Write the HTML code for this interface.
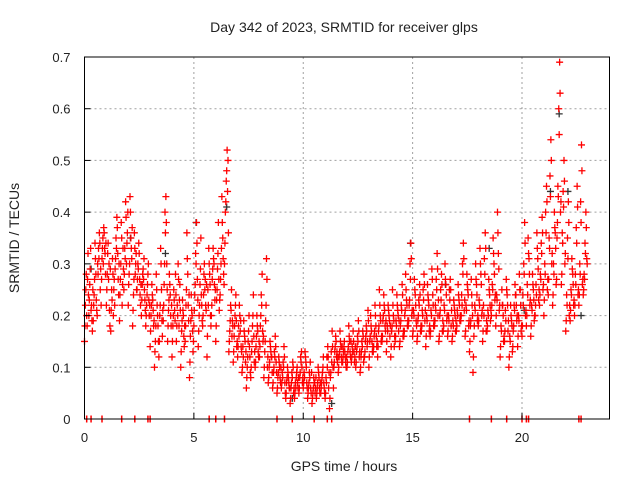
<!DOCTYPE html>
<html><head><meta charset="utf-8"><style>
body{margin:0;background:#fff}
svg text{font-family:"Liberation Sans",sans-serif;fill:#222}
</style></head><body>
<svg id="c" width="640" height="480" xmlns="http://www.w3.org/2000/svg">
<text x="344" y="32" font-size="14" text-anchor="middle">Day 342 of 2023, SRMTID for receiver glps</text>
<text x="344" y="471" font-size="14" text-anchor="middle">GPS time / hours</text>
<text transform="translate(19,238) rotate(-90)" font-size="14" text-anchor="middle">SRMTID / TECUs</text>
<g id="grid"></g>
<g id="marks"></g>
<g id="axes"></g>
</svg>
<script>
const xTicks=[0,5,10,15,20];
const yTicks=[0,0.1,0.2,0.3,0.4,0.5,0.6,0.7];
const yTickLabels=["0","0.1","0.2","0.3","0.4","0.5","0.6","0.7"];
const hourStep=0.2;
const srmtid=[
[.15,.22,.28,.18,.32],[.20,.26,.33,.22,.17],[.19,.24,.34,.28,.21],[.30,.33,.36,.25,.22],[.31,.35,.37,.33,.28],
[.22,.28,.34,.30,.18],[.17,.25,.31,.20,.27],[.29,.35,.39,.32,.24],[.19,.27,.38,.22,.33],[.25,.33,.42,.30,.36],
[.22,.28,.43,.35,.31],[.18,.24,.36,.28,.32],[.25,.30,.34,.27,.22],[.20,.26,.29,.31,.23],[.18,.22,.26,.30,.20],
[.14,.20,.26,.23,.18],[.10,.15,.28,.22,.18],[.12,.20,.33,.25,.16],[.19,.26,.40,.43,.30],[.15,.21,.28,.24,.18],
[.12,.18,.25,.21,.28],[.15,.22,.30,.18,.26],[.10,.17,.23,.20,.14],[.15,.22,.36,.28,.19],[.08,.16,.24,.20,.13],
[.18,.24,.32,.38,.27],[.14,.20,.26,.35,.22],[.18,.24,.30,.27,.21],[.12,.25,.33,.28,.20],[.20,.27,.33,.30,.23],
[.15,.23,.29,.38,.21],[.24,.30,.43,.35,.28],[.30,.40,.46,.52,.50],[.13,.17,.22,.25,.19],[.11,.16,.20,.24,.14],
[.12,.18,.22,.17,.14],[.09,.14,.19,.16,.11],[.06,.10,.15,.20,.12],[.08,.13,.18,.24,.11],[.10,.14,.20,.17,.12],
[.12,.18,.24,.28,.15],[.08,.13,.19,.31,.10],[.07,.10,.15,.13,.12],[.06,.09,.13,.16,.11],[.05,.08,.12,.10,.07],
[.06,.09,.11,.14,.07],[.04,.07,.10,.08,.06],[.03,.06,.09,.11,.05],[.04,.07,.08,.10,.06],[.05,.08,.12,.13,.07],
[.06,.09,.13,.11,.07],[.04,.06,.09,.11,.05],[.03,.05,.08,.07,.06],[.04,.06,.10,.08,.05],[.05,.07,.09,.12,.06],
[.04,.08,.12,.14,.06],[.02,.08,.13,.17,.10],[.10,.13,.16,.12,.11],[.09,.12,.17,.14,.11],[.11,.13,.15,.12,.10],
[.10,.13,.18,.15,.12],[.11,.14,.17,.13,.12],[.10,.13,.16,.19,.12],[.09,.12,.15,.17,.11],[.12,.15,.18,.14,.21],
[.10,.15,.20,.17,.13],[.13,.16,.22,.18,.14],[.12,.17,.25,.20,.15],[.15,.19,.24,.21,.17],[.13,.18,.22,.20,.16],
[.12,.17,.25,.20,.14],[.15,.19,.24,.21,.17],[.14,.18,.22,.26,.16],[.16,.20,.28,.23,.18],[.18,.22,.30,.34,.20],
[.16,.21,.27,.24,.19],[.15,.19,.23,.26,.17],[.17,.21,.25,.28,.19],[.14,.20,.26,.23,.17],[.16,.21,.29,.24,.18],
[.18,.22,.27,.32,.20],[.15,.20,.25,.28,.17],[.17,.22,.30,.26,.19],[.16,.20,.25,.27,.18],[.15,.19,.23,.21,.17],
[.17,.21,.26,.23,.19],[.19,.24,.30,.34,.21],[.16,.22,.28,.25,.18],[.13,.18,.27,.22,.09],[.16,.22,.30,.26,.19],
[.18,.23,.33,.28,.20],[.15,.22,.31,.36,.17],[.17,.21,.27,.24,.19],[.20,.26,.35,.30,.23],[.18,.24,.40,.32,.21],
[.12,.18,.25,.22,.15],[.15,.21,.27,.24,.17],[.10,.16,.22,.19,.13],[.17,.22,.26,.24,.19],[.14,.20,.28,.25,.17],
[.16,.24,.30,.38,.20],[.18,.26,.35,.31,.22],[.16,.22,.28,.25,.19],[.20,.26,.36,.31,.23],[.22,.28,.34,.39,.25],
[.20,.30,.40,.45,.25],[.24,.35,.47,.54,.30],[.22,.30,.40,.36,.26],[.35,.45,.60,.69,.40],[.26,.36,.44,.50,.30],
[.17,.24,.35,.42,.20],[.19,.25,.31,.28,.22],[.20,.28,.37,.45,.24],[.22,.30,.42,.53,.26],[.24,.28,.34,.40,.31]
];
const srmtidB=[
[.18,.25,.20,.27,.24],[.23,.29,.21,.19,.25],[.22,.27,.31,.23,.20],[.28,.31,.34,.29,.27],[.33,.30,.36,.32,.34],
[.25,.32,.27,.21,.29],[.21,.23,.28,.25,.22],[.31,.33,.37,.27,.30],[.24,.30,.35,.26,.29],[.28,.31,.39,.34,.40],
[.26,.30,.40,.33,.37],[.21,.27,.33,.30,.25],[.27,.29,.32,.24,.26],[.23,.28,.27,.25,.21],[.20,.24,.28,.23,.22],
[.17,.22,.24,.21,.19],[.13,.18,.25,.20,.15],[.15,.22,.30,.19,.21],[.22,.30,.36,.38,.25],[.18,.23,.26,.20,.22],
[.15,.20,.23,.19,.24],[.18,.20,.27,.23,.21],[.13,.19,.21,.16,.18],[.18,.25,.31,.22,.24],[.11,.19,.21,.17,.15],
[.21,.26,.30,.34,.23],[.17,.22,.29,.24,.19],[.20,.28,.25,.22,.26],[.16,.22,.30,.26,.18],[.22,.29,.31,.26,.25],
[.18,.25,.32,.27,.23],[.27,.33,.38,.31,.26],[.34,.42,.48,.44,.36],[.15,.19,.21,.16,.18],[.13,.18,.22,.19,.15],
[.14,.16,.20,.19,.13],[.10,.12,.17,.15,.13],[.08,.12,.17,.14,.09],[.10,.15,.20,.16,.13],[.11,.16,.18,.13,.15],
[.14,.20,.22,.17,.16],[.10,.15,.22,.27,.12],[.08,.11,.14,.12,.09],[.07,.10,.12,.14,.09],[.06,.09,.11,.08,.10],
[.07,.08,.10,.12,.05],[.05,.08,.09,.07,.06],[.04,.07,.08,.10,.06],[.05,.06,.09,.07,.08],[.06,.09,.11,.10,.08],
[.07,.08,.12,.10,.06],[.05,.07,.08,.06,.09],[.04,.06,.07,.05,.08],[.05,.07,.09,.06,.07],[.06,.08,.10,.07,.05],
[.05,.07,.10,.12,.09],[.04,.09,.11,.14,.06],[.11,.14,.15,.13,.12],[.10,.13,.15,.12,.14],[.12,.14,.13,.11,.12],
[.11,.14,.16,.13,.15],[.12,.13,.15,.11,.14],[.11,.14,.15,.17,.13],[.10,.13,.14,.16,.12],[.13,.16,.17,.15,.19],
[.12,.16,.18,.15,.14],[.14,.17,.20,.16,.15],[.14,.18,.22,.19,.16],[.16,.20,.22,.18,.19],[.15,.17,.21,.19,.18],
[.14,.18,.22,.19,.16],[.16,.18,.22,.20,.19],[.15,.19,.21,.24,.17],[.17,.21,.25,.22,.19],[.19,.23,.27,.31,.21],
[.17,.20,.25,.22,.18],[.16,.20,.22,.24,.18],[.18,.20,.23,.26,.21],[.16,.19,.24,.22,.18],[.17,.20,.27,.22,.19],
[.19,.21,.25,.29,.23],[.16,.21,.23,.26,.19],[.18,.21,.27,.24,.20],[.17,.19,.23,.25,.21],[.16,.18,.22,.20,.19],
[.18,.20,.24,.22,.20],[.20,.22,.28,.31,.23],[.17,.21,.26,.24,.19],[.15,.19,.24,.20,.12],[.18,.21,.27,.24,.20],
[.19,.22,.30,.26,.21],[.17,.20,.28,.33,.19],[.18,.20,.25,.22,.21],[.22,.25,.32,.28,.24],[.20,.23,.36,.29,.22],
[.14,.17,.22,.20,.16],[.17,.19,.25,.22,.19],[.12,.15,.20,.18,.14],[.18,.21,.24,.22,.20],[.16,.19,.25,.22,.18],
[.18,.22,.28,.34,.21],[.20,.24,.32,.28,.23],[.18,.21,.26,.23,.20],[.22,.24,.33,.29,.25],[.24,.27,.32,.36,.26],
[.23,.28,.36,.42,.27],[.27,.33,.43,.50,.32],[.24,.28,.37,.33,.27],[.38,.43,.55,.63,.42],[.28,.34,.41,.46,.32],
[.19,.22,.31,.38,.22],[.21,.24,.29,.26,.23],[.22,.26,.34,.41,.25],[.24,.28,.38,.48,.27],[.25,.27,.32,.37,.30]
];
const blackHours=[0.3,2.1,3.7,5.1,6.5,9.5,11.3,14.9,16.5,18.5,20.1,21.3,21.7,22.1,22.7];
const blackVals=[0.29,0.35,0.32,0.38,0.41,0.04,0.03,0.34,0.26,0.33,0.21,0.44,0.59,0.44,0.20];
const zeroHours=[0.1,0.3,0.8,1.7,2.3,2.9,3.0,5.7,6.0,6.4,8.8,9.5,10.5,11.1,11.3,17.6,18.6,19.3,20.0,20.2,20.3,22.6,22.7];
const L=84.5,R=609.5,T=57,B=419,xMax=24,yMax=0.7;
const X=h=>L+h/xMax*(R-L), Y=v=>B-v/yMax*(B-T);
const NS="http://www.w3.org/2000/svg";
function mk(tag,attrs,parent){const e=document.createElementNS(NS,tag);for(const k in attrs)e.setAttribute(k,attrs[k]);parent.appendChild(e);return e;}
const grid=document.getElementById('grid'),marks=document.getElementById('marks'),axes=document.getElementById('axes');
xTicks.forEach(t=>{
  if(t>0){const g=mk('line',{x1:X(t),x2:X(t),y1:T,y2:B,stroke:'#a0a0a0','stroke-dasharray':'2,3'},grid);
  
  }
  const tk=mk('line',{x1:X(t),x2:X(t),y1:B,y2:B-6,stroke:'#000'},axes);
  
  
  const tx=mk('text',{x:X(t),y:B+23,'font-size':13,'text-anchor':'middle'},axes);tx.textContent=t;
  
  
});
yTicks.forEach((v,i)=>{
  if(v>0&&v<0.7){const g=mk('line',{x1:L,x2:R,y1:Y(v),y2:Y(v),stroke:'#a0a0a0','stroke-dasharray':'2,3'},grid);
  
  }
  const tk=mk('line',{x1:L,x2:L+6,y1:Y(v),y2:Y(v),stroke:'#000'},axes);
  
  
  const tx=mk('text',{x:L-14,y:Y(v)+5,'font-size':13,'text-anchor':'end'},axes);tx.textContent=yTickLabels[i];
  
  
});
const fr=mk('rect',{x:L,y:T,width:R-L,height:B-T,fill:'none',stroke:'#000','stroke-width':1},axes);


function plus(h,v,col){
  const x=X(h),y=Y(v);
  const p=mk('path',{d:`M${x-3.5},${y}H${x+3.5}M${x},${y-3.5}V${y+3.5}`,stroke:col,'stroke-width':1.3,fill:'none'},marks);
  
  
}
blackHours.forEach((h,i)=>plus(h,blackVals[i],'#333'));
srmtid.forEach((row,i)=>row.forEach((v,j)=>plus(i*hourStep+j*0.04,v,'#f00')));
srmtidB.forEach((row,i)=>row.forEach((v,j)=>plus(i*hourStep+0.02+j*0.04,v,'#f00')));
zeroHours.forEach(h=>{
  const z=mk('line',{x1:X(h),x2:X(h),y1:B-3.5,y2:B+3.5,stroke:'#f00','stroke-width':1.5},marks);
  
  
});
</script>
</body></html>
